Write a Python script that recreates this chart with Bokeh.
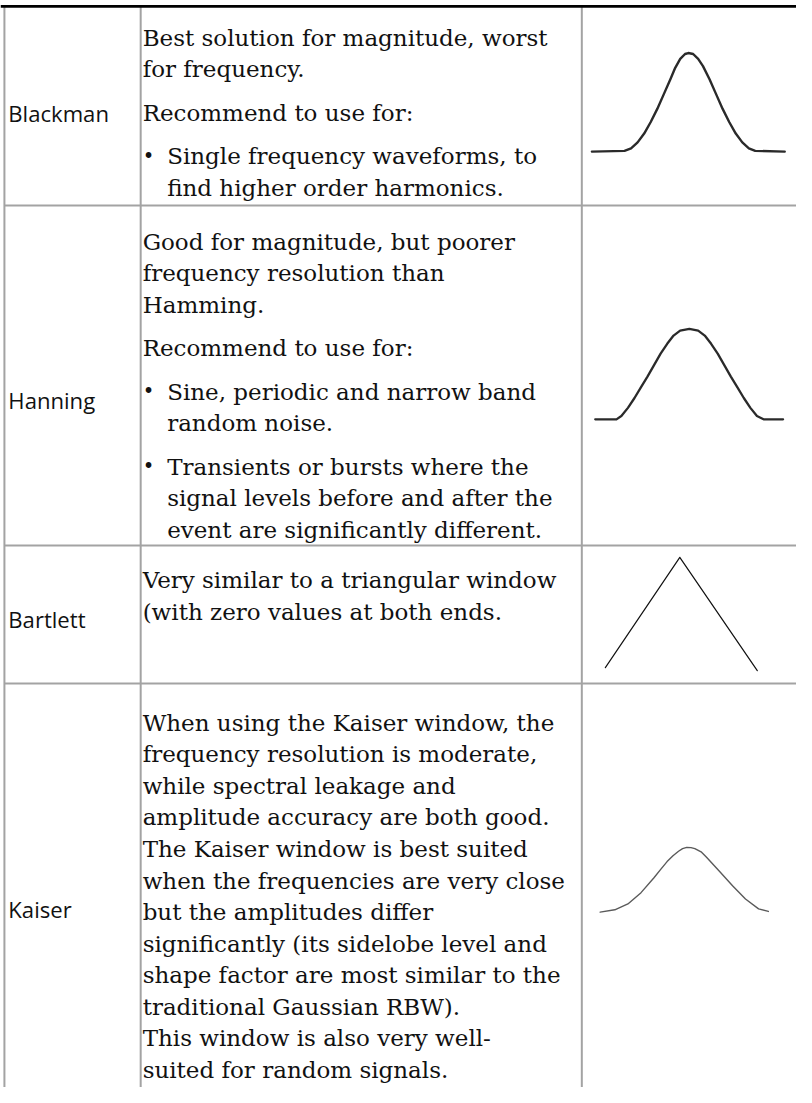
from bokeh.plotting import figure
from bokeh.models import Range1d, ColumnDataSource
from bokeh.embed import file_html
from bokeh.resources import INLINE
from bokeh.core.properties import value

# ---------------- data ----------------
window_names = ["Blackman", "Hanning", "Bartlett", "Kaiser"]

# paragraphs: (kind, lines) kind "p" = plain paragraph, "b" = bulleted
blackman_text = [
    ("p", ["Best solution for magnitude, worst", "for frequency."]),
    ("p", ["Recommend to use for:"]),
    ("b", ["Single frequency waveforms, to", "find higher order harmonics."]),
]
hanning_text = [
    ("p", ["Good for magnitude, but poorer", "frequency resolution than", "Hamming."]),
    ("p", ["Recommend to use for:"]),
    ("b", ["Sine, periodic and narrow band", "random noise."]),
    ("b", ["Transients or bursts where the", "signal levels before and after the",
           "event are significantly different."]),
]
bartlett_text = [
    ("p", ["Very similar to a triangular window", "(with zero values at both ends."]),
]
kaiser_text = [
    ("p", ["When using the Kaiser window, the",
           "frequency resolution is moderate,",
           "while spectral leakage and",
           "amplitude accuracy are both good.",
           "The Kaiser window is best suited",
           "when the frequencies are very close",
           "but the amplitudes differ",
           "significantly (its sidelobe level and",
           "shape factor are most similar to the",
           "traditional Gaussian RBW).",
           "This window is also very well-",
           "suited for random signals."]),
]
descriptions = [blackman_text, hanning_text, bartlett_text, kaiser_text]

# window shapes: position across the sketch (0..1) and amplitude (0..1)
blackman_t = [0, .169, .203, .237, .271, .305, .339, .373, .407, .432, .458, .483, .5,
              .525, .551, .576, .61, .644, .678, .712, .746, .78, .814, .847, 1]
blackman_a = [0, .007, .033, .093, .183, .30, .433, .583, .733, .85, .94, .99, 1.0,
              .99, .94, .867, .733, .583, .433, .30, .183, .093, .033, .007, 0]

hanning_t = [0, .113, .139, .174, .209, .243, .278, .313, .348, .383, .417, .452, .501,
             .548, .583, .617, .652, .687, .722, .757, .791, .826, .861, .896, 1]
hanning_a = [0, 0, .036, .127, .236, .353, .473, .60, .727, .836, .927, .982, 1.0,
             .982, .927, .836, .727, .60, .473, .353, .236, .127, .036, 0, 0]

bartlett_t = [0, .49, 1]
bartlett_a = [.026, 1.0, 0]

kaiser_t = [0, .087, .165, .243, .32, .36, .398, .433, .466, .49, .515, .54, .563, .6, .631,
            .709, .787, .864, .942, 1]
kaiser_a = [0, .035, .126, .30, .53, .66, .78, .87, .94, .98, 1.0, .995, .98, .93, .85,
            .63, .407, .203, .05, .01]

shapes = [(blackman_t, blackman_a), (hanning_t, hanning_a),
          (bartlett_t, bartlett_a), (kaiser_t, kaiser_a)]

# ---------------- layout (reference pixels, whole 812 x 1103 picture) ----------------
REF_W, REF_H = 812, 1103
W, H = 796, 1087
k = W / REF_W
row_tops = [5, 208, 553, 693]
first_baselines = [38, 245, 588, 733]
line_hs = [32, 32, 32, 32]
para_gap = 12
label_baselines = [114, 405, 628, 922]
col_x = [4, 143, 593]
text_x, bullet_x, bullet_text_x, label_x = 145, 151, 170, 8
# sketch boxes: x0, x1, baseline y, height
sketch_boxes = [(603.3, 800, 153.3, 100), (606.7, 798.3, 425, 91.7),
                (617, 772, 680, 115), (611.7, 783.3, 925, 65.7)]
sketch_styles = [dict(line_color="#2a2a2a", line_width=2.4),
                 dict(line_color="#2a2a2a", line_width=2.3),
                 dict(line_color="#111111", line_width=1.2),
                 dict(line_color="#5a5a5a", line_width=1.4)]

p = figure(width=W, height=H, output_backend="svg", toolbar_location=None,
           x_range=Range1d(0, REF_W), y_range=Range1d(REF_H, 0),
           min_border=0, outline_line_color=None,
           background_fill_color="white", border_fill_color="white")
p.xaxis.visible = False
p.yaxis.visible = False
p.grid.visible = False

# table rules
grid_col = "#a3a3a3"
p.segment(x0=col_x, y0=[6] * 3, x1=col_x, y1=[REF_H] * 3, line_color=grid_col, line_width=2)
hy = row_tops[1:]
p.segment(x0=[4] * len(hy), y0=hy, x1=[REF_W] * len(hy), y1=hy,
          line_color=grid_col, line_width=2)
p.segment(x0=[0], y0=[6], x1=[REF_W], y1=[6], line_color="black", line_width=2.6)

# text
body = dict(x=[], y=[], text=[])
bul = dict(x=[], y=[], text=[])
for r, paras in enumerate(descriptions):
    y = first_baselines[r]
    for j, (kind, lines) in enumerate(paras):
        if j > 0:
            y += para_gap
        for i, ln in enumerate(lines):
            if kind == "b" and i == 0:
                bul["x"].append(bullet_x); bul["y"].append(y); bul["text"].append("\u2022")
            body["x"].append(bullet_text_x if kind == "b" else text_x)
            body["y"].append(y)
            body["text"].append(ln)
            y += line_hs[r]

fs_body = f"{23.5 * k:.1f}px"
fs_label = f"{22.5 * k:.1f}px"
p.text(x="x", y="y", text="text", source=ColumnDataSource(body),
       text_font=value("DejaVu Serif"), text_font_size=fs_body, text_color="#111111",
       text_align="left", text_baseline="alphabetic")
p.text(x="x", y="y", text="text", source=ColumnDataSource(bul),
       text_font=value("DejaVu Serif"), text_font_size=f"{20 * k:.1f}px", text_color="#111111",
       text_align="center", text_baseline="alphabetic")

lab = dict(x=[label_x] * 4, y=label_baselines, text=window_names)
p.text(x="x", y="y", text="text", source=ColumnDataSource(lab),
       text_font=value("Open Sans"), text_font_size=fs_label, text_color="#111111",
       text_align="left", text_baseline="alphabetic")

# window sketches
for (ts, amps), (x0, x1, yb, hh), st in zip(shapes, sketch_boxes, sketch_styles):
    xs = [x0 + t * (x1 - x0) for t in ts]
    ys = [yb - a * hh for a in amps]
    p.line(xs, ys, line_join="round", line_cap="round", **st)

open("out.html", "w").write(file_html(p, INLINE))
